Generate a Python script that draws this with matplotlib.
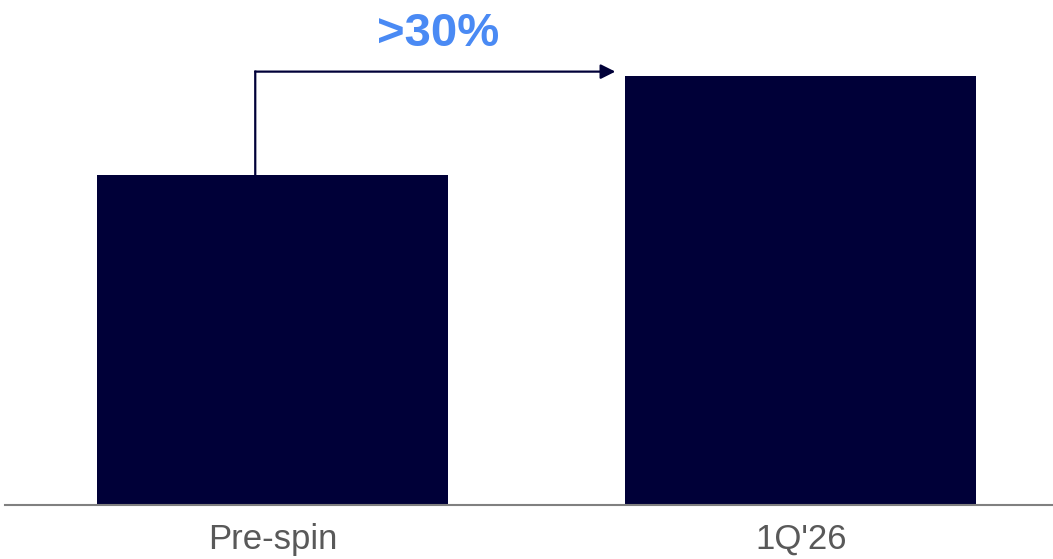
import matplotlib.pyplot as plt

# 两个时期的数值
periods = ["Pre-spin", "1Q'26"]
values = [100, 130]
growth_label = ">30%"

plt.rcParams['font.family'] = ['Liberation Sans', 'DejaVu Sans']

fig = plt.figure(figsize=(10.53, 5.59), dpi=100)
ax = fig.add_axes([5 / 1053, 54 / 559, 1048 / 1053, 505 / 559])

x = [0, 1]
ax.bar(x, values, width=0.665, color="#000038")

ax.set_xlim(-0.507, 1.478)
ax.set_ylim(0, 153)
ax.set_xticks(x)
ax.set_xticklabels(periods, fontsize=25, color="#595959")
ax.tick_params(axis="x", length=0, pad=13)
ax.set_yticks([])
for s in ["top", "left", "right"]:
    ax.spines[s].set_visible(False)
ax.spines["bottom"].set_color("#808080")
ax.spines["bottom"].set_linewidth(1.5)

# 折线箭头：从第一根柱子顶部向上再向右
arrow_y = values[1] * 1.01
x0 = -0.033
ax.plot([x0, x0], [values[0], arrow_y], color="#000038", lw=1.6,
        solid_capstyle="projecting", snap=False)
ax.annotate("", xy=(0.649, arrow_y), xytext=(x0, arrow_y),
            arrowprops=dict(arrowstyle="-|>", color="#000038", lw=1.6,
                            mutation_scale=22, shrinkA=0, shrinkB=0))

ax.text(0.313, 142.6, growth_label, ha="center", va="center",
        fontsize=34, fontweight="bold", color="#4A8AF4")

fig.savefig("out.png", dpi=100)
